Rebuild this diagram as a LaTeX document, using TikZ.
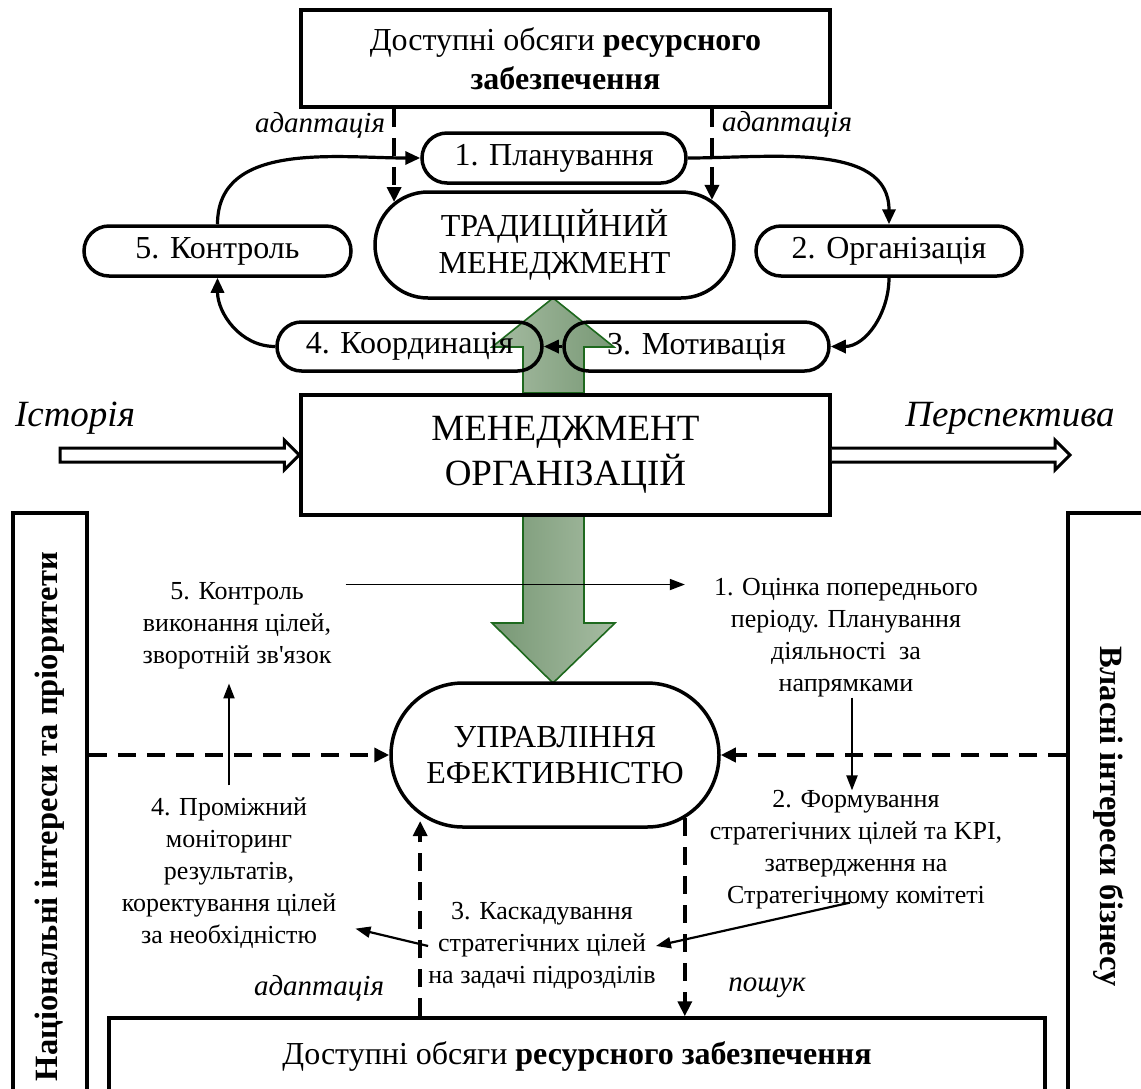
\documentclass[tikz,border=0pt]{standalone}
\usepackage{fontspec}
\setmainfont{Liberation Serif}
\usetikzlibrary{arrows.meta}
\usetikzlibrary{shapes.misc}
\usetikzlibrary{calc}

\definecolor{arrowLight}{RGB}{166,188,162}
\definecolor{arrowDark}{RGB}{120,152,117}
\definecolor{arrowEdge}{RGB}{30,105,30}

\begin{document}
\begin{tikzpicture}[x=1pt,y=1pt,
    box/.style={draw, line width=3.5pt, inner sep=0pt, align=center},
    pill/.style={draw, rounded rectangle, line width=3.5pt, inner sep=0pt, align=center},
    cyc/.style={line width=3.2pt, -{Triangle[length=15pt,width=13pt]}},
    thinarr/.style={line width=2.2pt, -{Triangle[length=15pt,width=11pt]}},
    dsh/.style={line width=3.6pt, dash pattern=on 18pt off 11pt, -{Triangle[length=15pt,width=14pt]}},
    hollow/.style={line width=3pt, fill=white, line join=miter},
    stage/.style={align=center, inner sep=0pt, font=\fontsize{26}{32}\selectfont},
    note/.style={inner sep=0pt, font=\fontsize{29}{34}\selectfont\itshape},
]
    % Page frame
    \clip (0,0) rectangle (1141,-1088);

    % Green arrows (boxes lie on top)
    \draw[draw=arrowEdge, line width=1.6pt, left color=arrowLight, right color=arrowDark]
        (523,-393) -- (523,-347) -- (492,-347) -- (553,-298) -- (614,-347) -- (584,-347) -- (584,-393) -- cycle;
    \draw[draw=arrowEdge, line width=1.6pt, left color=arrowDark, right color=arrowLight]
        (523,-515) -- (523,-623) -- (492,-623) -- (553,-683) -- (615,-623) -- (584,-623) -- (584,-515) -- cycle;

    % Traditional management cycle
    \node[box, minimum width=529, minimum height=97, font=\fontsize{32}{39}\selectfont] (resTop) at (565.5,-58.5)
        {Доступні обсяги \textbf{ресурсного}\\\textbf{забезпечення}};
    \node[pill, minimum width=264, minimum height=50, font=\fontsize{32}{36}\selectfont] (plan) at (554,-158) {1. Планування};
    \node[pill, minimum width=359, minimum height=106, font=\fontsize{32}{37}\selectfont] (trad) at (554.5,-245)
        {ТРАДИЦІЙНИЙ\\МЕНЕДЖМЕНТ};
    \node[pill, minimum width=267, minimum height=50, font=\fontsize{32}{36}\selectfont] (kontrol) at (217.5,-251) {5. Контроль};
    \node[pill, minimum width=266, minimum height=50, font=\fontsize{32}{36}\selectfont] (org) at (889,-251) {2. Організація};
    \node[pill, minimum width=265, minimum height=49, font=\fontsize{32}{36}\selectfont] (koord) at (409.5,-346.5) {4. Координація};
    \node[pill, minimum width=265, minimum height=49, font=\fontsize{32}{36}\selectfont] (motiv) at (696.5,-346.5) {3. Мотивація};

    \node[note] (adL) at (320,-125) {адаптація};
    \node[note] (adR) at (787,-124) {адаптація};

    \draw[dsh] (trad.165 |- resTop.south) -- (trad.165);
    \draw[dsh] (trad.16 |- resTop.south) -- (trad.16);

    \draw[cyc] (kontrol.north) to[out=90,in=180] (plan.west);
    \draw[cyc] (plan.east) to[out=0,in=90] (org.north);
    \draw[cyc] (org.south) to[out=-90,in=0] (motiv.east);
    \draw[cyc] (motiv.west) -- (koord.east);
    \draw[cyc] (koord.west) to[out=180,in=-90] (kontrol.south);

    % Management of organisations
    \node[box, minimum width=529, minimum height=120, font=\fontsize{37}{45}\selectfont] (menOrg) at (565.5,-455)
        {МЕНЕДЖМЕНТ\\ОРГАНІЗАЦІЙ};
    \node[inner sep=0pt, font=\fontsize{37}{42}\selectfont\itshape] (hist) at (75,-418) {Історія};
    \node[inner sep=0pt, font=\fontsize{37}{42}\selectfont\itshape] (persp) at (1010,-418) {Перспектива};
    \coordinate (histStart) at (60,-455);
    \coordinate (perspEnd) at (1070,-455);
    \draw[hollow] ($(histStart)+(0,7)$) -| ($(menOrg.west)+(-15,15)$) -- (menOrg.west)
        -- ($(menOrg.west)+(-15,-15)$) |- ($(histStart)+(0,-7)$) -- cycle;
    \draw[hollow] ($(menOrg.east)+(0,7)$) -| ($(perspEnd)+(-15,15)$) -- (perspEnd)
        -- ($(perspEnd)+(-15,-15)$) |- ($(menOrg.east)+(0,-7)$);

    % Performance management
    \node[pill, minimum width=328, minimum height=144, font=\fontsize{32}{36}\selectfont] (upr) at (555,-755)
        {УПРАВЛІННЯ\\ЕФЕКТИВНІСТЮ};
    \node[box, minimum width=936, minimum height=76, font=\fontsize{32}{36}\selectfont] (resBot) at (577,-1056)
        {Доступні обсяги \textbf{ресурсного забезпечення}};
    \node[box, rotate=90, minimum width=607, minimum height=74, font=\fontsize{32.5}{36}\selectfont\bfseries] (natBox)
        at (50,-816.5) {Національні інтереси та пріоритети};
    \node[box, rotate=-90, minimum width=607, minimum height=82, font=\fontsize{32.5}{36}\selectfont\bfseries] (busBox)
        at (1109,-816.5) {Власні інтереси бізнесу};

    \node[stage] (ctrl5) at (237,-626) {5. Контроль\\виконання цілей,\\зворотній зв\textquotesingle язок};
    \node[stage] (eval1) at (846,-638) {1. Оцінка попереднього\\періоду. Планування\\діяльності\ \ за\\напрямками};
    \node[stage] (form2) at (856,-850) {2. Формування\\стратегічних цілей та KPI,\\затвердження на\\Стратегічному комітеті};
    \node[stage] (casc3) at (542,-946) {3. Каскадування\\стратегічних цілей\\на задачі підрозділів};
    \node[stage] (monit4) at (229,-873) {4. Проміжний\\моніторинг\\результатів,\\коректування цілей\\за необхідністю};

    \node[note] (adB) at (319,-988) {адаптація};
    \node[note] (poshuk) at (767,-988) {пошук};

    \draw[dsh] (natBox.south |- upr.west) -- (upr.west);
    \draw[dsh] (busBox.south |- upr.east) -- (upr.east);
    \draw[dsh, shorten >=6pt] (upr.204 |- resBot.north) -- (upr.204);
    \draw[dsh] (upr.-26) -- (upr.-26 |- resBot.north);

    \draw[thinarr, line width=1.6pt] ($(ctrl5.north east)+(14,-2)$) -- ($(eval1.west |- ctrl5.north east)+(-29,-2)$);
    \draw[thinarr] ([xshift=6pt]eval1.south) -- ([xshift=6pt]eval1.south |- form2.north);
    \draw[thinarr] ([xshift=-6pt,yshift=7pt]form2.south) -- (casc3.east);
    \draw[thinarr] (casc3.west) -- ($(monit4.south east)+(19,20)$);
    \draw[thinarr] ([yshift=12pt]monit4.north) -- ([yshift=-14pt]monit4.north |- ctrl5.south);
\end{tikzpicture}
\end{document}
